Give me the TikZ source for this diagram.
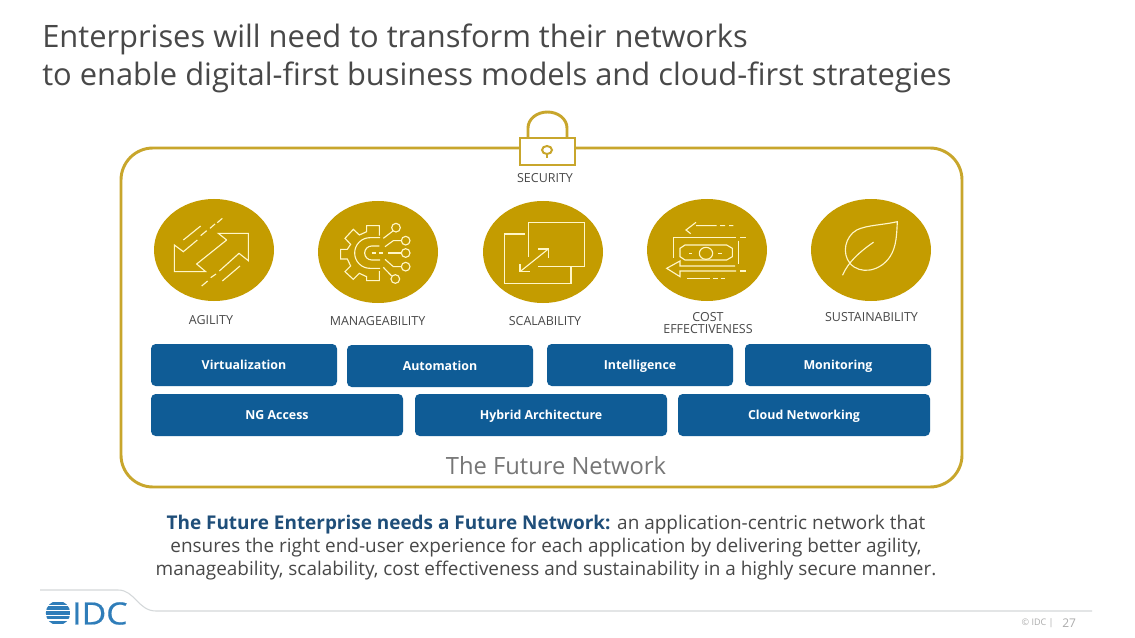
\documentclass[tikz,border=0pt]{standalone}
\usepackage{fontspec}
\setmainfont{Open Sans}
\newfontfamily\logofont[FakeBold=0.6, FakeStretch=1.1]{Open Sans}
\usepackage{tikz}
\definecolor{idcgold}{HTML}{C49C00}
\definecolor{idcframe}{HTML}{C8A62C}
\definecolor{idcblue}{HTML}{0F5C96}
\definecolor{idclogo}{HTML}{2F7DB9}
\definecolor{idcnavy}{HTML}{1F4E79}
\definecolor{idctext}{HTML}{484848}
\definecolor{idcrule}{HTML}{D4D8DA}
\definecolor{iconline}{HTML}{FFF6C8}
\tikzset{
  badge/.style={fill=idcgold, draw=none},
  iconpen/.style={draw=iconline, line width=0.85pt, fill=none, line join=miter},
  caption/.style={text=idctext, font=\fontsize{9.35}{9.4}\selectfont, align=center, inner sep=0pt},
  tile/.style={fill=idcblue, rounded corners=3.5pt, text=white, font=\fontsize{9.3}{10}\selectfont\bfseries, minimum height=31.5pt, text height=8.5pt, text depth=2pt, inner sep=0pt},
  heading/.style={text=idctext, font=\fontsize{23.15}{28.5}\selectfont, align=left, inner sep=0pt},
  bodytext/.style={text=idctext, font=\fontsize{14.2}{17.25}\selectfont, align=center, inner sep=0pt}
}
\begin{document}
\begin{tikzpicture}[x=0.75pt, y=-0.75pt]
   \useasboundingbox (0,0) rectangle (1135,638);
   \fill[white] (0,0) rectangle (1135,638);

   \node[heading, anchor=north west] (title) at (42,24) {Enterprises will need to transform their networks\\to enable digital-first business models and cloud-first strategies};

   % frame and lock
   \draw[idcframe, line width=2.2pt, rounded corners=24pt] (121,148) rectangle (962,487);
   \draw[idcframe, line width=2.2pt, fill=white] (520,138) rectangle (575,165);
   \draw[idcframe, line width=2.2pt] (528,138) -- (528,128) arc (180:360:19.5 and 16) -- (567,138);
   \draw[idcframe, line width=1.5pt] (547,150) ellipse (5 and 4);
   \draw[idcframe, line width=1.5pt] (547,154) -- (547,158);
   \node[caption] (security) at (545,178) {SECURITY};

   \foreach \cx/\cy/\name in {214/250/agility, 378/252/manage, 543/252/scale, 707/250/cost, 871/250/sustain}{
      \fill[badge] (\cx,\cy) ellipse (60 and 51);
   }

   % agility
   \begin{scope}[shift={(140,190)}, x=0.25pt, y=-0.25pt]
   \draw[iconpen] (260,150) -- (235,130) -- (325,130) -- (325,212) -- (297,190) -- (238,243);
   \draw[iconpen] (260,150) -- (170,222) -- (197,245) -- (103,245) -- (103,165) -- (130,185) -- (172,150);
   \draw[iconpen] (130,150) -- (182,108) (182,137) -- (200,122) (210,115) -- (225,102) (232,98) -- (247,85);
   \draw[iconpen] (185,288) -- (203,273) (212,263) -- (228,252) (247,273) -- (300,228);
   \end{scope}

   % manageability
   \begin{scope}[shift={(140,190)}, x=0.25pt, y=-0.25pt]
   \draw[iconpen] (718,137) -- (718,107) -- (680,107) -- (680,125) -- (658,135) -- (640,118) -- (615,145) -- (632,163) -- (622,178) -- (602,178) -- (602,207) -- (622,207) -- (632,228) -- (615,245) -- (640,268) -- (658,250) -- (680,260) -- (680,272) -- (718,272) -- (718,243);
   \draw[iconpen] (720,143) -- (690,143) arc (270:90:46) -- (720,235);
   \draw[iconpen] (718,168) -- (695,168) arc (270:90:21) -- (720,210);
   \draw[iconpen] (695,189) -- (708,189) (718,189) -- (730,189) (745,189) -- (782,189);
   \draw[iconpen] (730,145) -- (760,122) (735,170) -- (760,152) -- (784,152) (735,208) -- (760,230) -- (784,230) (730,232) -- (755,258);
   \foreach \kx/\ky in {768/113, 797/152, 797/189, 797/230, 766/267}{
      \draw[iconpen] (\kx,\ky) circle (13);
   }
   \end{scope}

   % scalability
   \begin{scope}[shift={(470,190)}, x=0.25pt, y=-0.25pt]
   \draw[iconpen] (165,132) -- (104,132) -- (104,280) -- (303,280) -- (303,230);
   \draw[iconpen] (175,200) -- (175,98) -- (343,98) -- (343,230) -- (205,230);
   \draw[iconpen] (150,245) -- (235,177);
   \draw[iconpen] (150,222) -- (150,245) -- (180,245) (205,177) -- (235,177) -- (235,205);
   \end{scope}

   % cost effectiveness
   \begin{scope}[shift={(470,190)}, x=0.25pt, y=-0.25pt]
   \draw[iconpen] (678,97) -- (648,120) -- (662,131) (678,107) -- (740,107) (750,107) -- (765,107) (777,107) -- (790,107);
   \draw[iconpen] (827,142) -- (810,142) (798,142) -- (610,142) -- (610,205);
   \draw[iconpen] (806,152) -- (806,222);
   \draw[iconpen] (645,165) -- (770,165) -- (787,175) -- (787,200) -- (770,210) -- (645,210) -- (630,200) -- (630,175) -- cycle;
   \draw[iconpen] (708,190) ellipse (20 and 18);
   \draw[iconpen] (658,190) -- (667,190) (745,190) -- (755,190);
   \draw[iconpen] (798,243) -- (630,243) -- (630,260) -- (590,235) -- (630,213) -- (630,228) -- (795,228);
   \draw[iconpen] (810,243) -- (827,243);
   \draw[iconpen] (652,265) -- (720,265) (730,265) -- (745,265) (752,265) -- (765,265);
   \end{scope}

   % sustainability
   \begin{scope}[shift={(780,190)}, x=0.25pt, y=-0.25pt]
   \draw[iconpen] (352,95) .. controls (310,105) and (260,105) .. (230,120) .. controls (195,140) and (185,190) .. (210,220) .. controls (240,255) and (300,245) .. (330,200) .. controls (350,170) and (350,130) .. (352,95) -- cycle;
   \draw[iconpen, line cap=round] (188,255) .. controls (205,215) and (240,185) .. (280,157);
   \end{scope}

   \node[caption] (agilitylabel) at (211,320) {AGILITY};
   \node[caption] (managelabel) at (377.5,321) {MANAGEABILITY};
   \node[caption] (scalelabel) at (545,321) {SCALABILITY};
   \node[caption] (costlabel) at (708,323) {COST\\[-1pt]EFFECTIVENESS};
   \node[caption] (sustainlabel) at (871.5,317) {SUSTAINABILITY};

   \foreach \cx/\cy/\tw/\name/\lbl in {
      244/365/186/virt/Virtualization, 440/366/186/auto/Automation, 640/365/186/intel/Intelligence, 838/365/186/mon/Monitoring,
      277/415/252/access/NG Access, 541/415/252/hybrid/Hybrid Architecture, 804/415/252/cloud/Cloud Networking}{
      \node[tile, minimum width=\tw*0.75pt] (\name) at (\cx,\cy) {\lbl};
   }

   \node[text=idctext!75, font=\fontsize{17.8}{20}\selectfont, inner sep=0pt] (network) at (556,465.5) {The Future Network};

   \node[bodytext] (body) at (546,548) {{\bfseries\color{idcnavy}The Future Enterprise needs a Future Network:} an application-centric network that\\ensures the right end-user experience for each application by delivering better agility,\\manageability, scalability, cost effectiveness and sustainability in a highly secure manner.};

   % footer
   \draw[idcrule, line width=0.8pt] (40,590) -- (118,590) .. controls (135,590) and (138,611) .. (156,611) -- (1092,611);
   \begin{scope}
   \clip (58,613) circle (12.2);
   \foreach \sy in {601.5,606.3,611.1,615.9,620.7}{
      \fill[idclogo] (44,\sy) rectangle (71,\sy+3.4);
   }
   \end{scope}
   \node[text=idclogo, font=\logofont\fontsize{23}{24}\selectfont, anchor=west, inner sep=0pt] (logo) at (72,613.5) {IDC};
   \node[text=gray!65, font=\fontsize{6.8}{7}\selectfont, anchor=east, inner sep=0pt] (copyright) at (1054,623.5) {© IDC |};
   \node[text=gray!65, font=\fontsize{9}{9}\selectfont, anchor=west, inner sep=0pt] (pagenum) at (1062,623.5) {27};
\end{tikzpicture}
\end{document}
